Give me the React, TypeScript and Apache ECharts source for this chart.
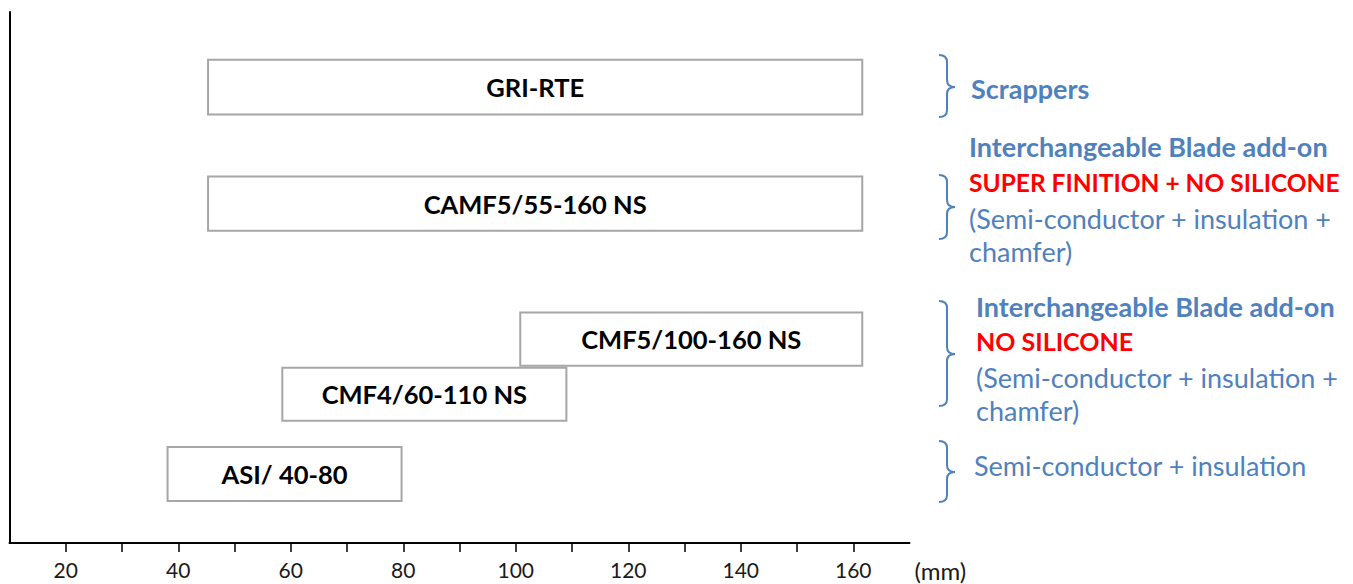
import React, { useEffect, useRef } from "react";
import * as echarts from "echarts";

// ---- data ----
const categories = ["GRI-RTE", "CAMF5/55-160 NS", "CMF5/100-160 NS", "CMF4/60-110 NS", "ASI/ 40-80"];
const rangeStart = [45.3, 45.3, 100.8, 58.5, 38.1];
const rangeEnd = [161.6, 161.6, 161.6, 109.0, 79.7];
const laneLow = [80.7, 58.8, 33.4, 23.0, 7.9];
const laneHigh = [91.0, 69.0, 43.4, 33.0, 18.1];
const tickValues = [20, 30, 40, 50, 60, 70, 80, 90, 100, 110, 120, 130, 140, 150, 160];
const labelValues = [20, 40, 60, 80, 100, 120, 140, 160];

// ---- annotation text ----
const BLUE = "#4f81bd";
const RED = "#ff0000";
const FONT = "Lato, 'Open Sans', sans-serif";

type Line = { text: string; x: number; y: number; bold: boolean; color: string; size: number };
const annotations: Line[] = [
  { text: "Scrappers", x: 971, y: 88, bold: true, color: BLUE, size: 27 },
  { text: "Interchangeable Blade add-on", x: 969, y: 146, bold: true, color: BLUE, size: 27 },
  { text: "SUPER FINITION + NO SILICONE", x: 969, y: 182, bold: true, color: RED, size: 24.5 },
  { text: "(Semi-conductor + insulation +", x: 969, y: 218, bold: false, color: BLUE, size: 27 },
  { text: "chamfer)", x: 969, y: 251, bold: false, color: BLUE, size: 27 },
  { text: "Interchangeable Blade add-on", x: 976, y: 306, bold: true, color: BLUE, size: 27 },
  { text: "NO SILICONE", x: 976, y: 341, bold: true, color: RED, size: 25 },
  { text: "(Semi-conductor + insulation +", x: 976, y: 377, bold: false, color: BLUE, size: 27 },
  { text: "chamfer)", x: 976, y: 410, bold: false, color: BLUE, size: 27 },
  { text: "Semi-conductor + insulation", x: 974, y: 465, bold: false, color: BLUE, size: 27 },
];

// braces: [top, tip, bottom]
const braces = [
  [55, 87, 117],
  [175, 207, 239],
  [301, 354, 406],
  [441, 472, 502],
];

function bracePath(top: number, tip: number, bottom: number) {
  const x0 = 939, xm = 947, x1 = 955, r = 7;
  return (
    `M${x0} ${top} Q${xm} ${top} ${xm} ${top + r} L${xm} ${tip - r} Q${xm} ${tip} ${x1} ${tip} ` +
    `Q${xm} ${tip} ${xm} ${tip + r} L${xm} ${bottom - r} Q${xm} ${bottom} ${x0} ${bottom}`
  );
}

braces.forEach((b, i) => {
  echarts.graphic.registerShape("brace" + i, echarts.graphic.extendPath(bracePath(b[0], b[1], b[2]), {}));
});

export default function App() {
  const ref = useRef<HTMLDivElement>(null);

  useEffect(() => {
    if (!ref.current) return;
    const chart = echarts.init(ref.current, null, { renderer: "svg" });
    const data = categories.map((c, i) => [rangeStart[i], rangeEnd[i], laneLow[i], laneHigh[i]]);

    const graphics: any[] = [];
    braces.forEach((_, i) => {
      graphics.push({
        type: "brace" + i,
        x: 0,
        y: 0,
        style: { stroke: BLUE, fill: "none", lineWidth: 2 },
      });
    });
    annotations.forEach((a) => {
      graphics.push({
        type: "text",
        x: a.x,
        y: a.y,
        style: {
          text: a.text,
          fill: a.color,
          fontFamily: FONT,
          fontSize: a.size,
          fontWeight: a.bold ? "bold" : "normal",
          verticalAlign: "middle",
          align: "left",
        },
      });
    });

    chart.setOption({
      animation: false,
      grid: { left: 9.5, width: 900, top: 12, bottom: 41 },
      xAxis: {
        type: "value",
        min: 10,
        max: 170,
        interval: 10,
        name: "(mm)",
        nameLocation: "end",
        nameGap: 5,
        nameTextStyle: {
          fontFamily: FONT,
          fontSize: 24,
          color: "#1a1a1a",
          verticalAlign: "top",
          padding: [15, 0, 0, 0],
        },
        axisLine: { show: true, lineStyle: { color: "#000", width: 2 } },
        axisTick: { show: true, length: 9, customValues: tickValues, lineStyle: { color: "#000", width: 1.5 } },
        axisLabel: {
          customValues: labelValues,
          margin: 16,
          fontFamily: FONT,
          fontSize: 21,
          color: "#1a1a1a",
        },
        splitLine: { show: false },
      },
      yAxis: {
        type: "value",
        min: 0,
        max: 100,
        axisLine: { show: true, lineStyle: { color: "#000", width: 2 } },
        axisTick: { show: false },
        axisLabel: { show: false },
        splitLine: { show: false },
      },
      graphic: graphics,
      series: [
        {
          type: "custom",
          encode: { x: [0, 1], y: [2, 3] },
          data,
          renderItem: (params: any, api: any) => {
            const s = api.coord([api.value(0), api.value(2)]);
            const e = api.coord([api.value(1), api.value(3)]);
            const x = s[0];
            const y = e[1];
            const w = e[0] - s[0];
            const h = s[1] - e[1];
            return {
              type: "group",
              children: [
                {
                  type: "rect",
                  shape: { x, y, width: w, height: h },
                  style: { fill: "#fff", stroke: "#a6a6a6", lineWidth: 2 },
                },
                {
                  type: "text",
                  x: x + w / 2,
                  y: y + h / 2,
                  style: {
                    text: categories[params.dataIndex],
                    fill: "#000",
                    fontFamily: FONT,
                    fontSize: 25.5,
                    fontWeight: "bold",
                    align: "center",
                    verticalAlign: "middle",
                  },
                },
              ],
            };
          },
        },
      ],
    });
    return () => chart.dispose();
  }, []);

  return (
    <div
      ref={ref}
      style={{ position: "absolute", left: 0, top: 0, width: 1353, height: 584, background: "#fff" }}
    />
  );
}
